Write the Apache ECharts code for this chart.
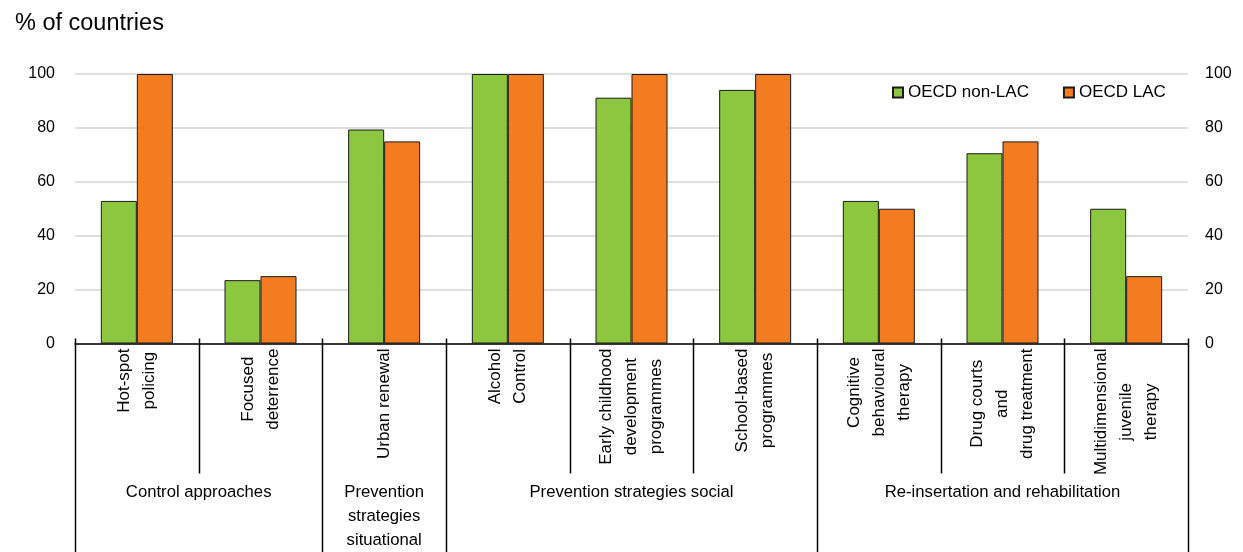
<!DOCTYPE html>
<html>
<head>
<meta charset="utf-8">
<title>Crime prevention approaches</title>
<script src="https://cdn.jsdelivr.net/npm/echarts@6/dist/echarts.min.js"></script>
<style>
  html, body { margin: 0; padding: 0; background: #fff; }
  #chart { width: 1243px; height: 552px; }
</style>
</head>
<body>
<div id="chart"></div>
<script>
// Programme categories (two-level axis: programme, then its group)
const categories = [
  'Hot-spot\npolicing',
  'Focused\ndeterrence',
  'Urban renewal',
  'Alcohol\nControl',
  'Early childhood\ndevelopment\nprogrammes',
  'School-based\nprogrammes',
  'Cognitive\nbehavioural\ntherapy',
  'Drug courts\nand\ndrug treatment',
  'Multidimensional\njuvenile\ntherapy'
];
const groupNames = [
  'Control approaches',
  'Prevention\nstrategies\nsituational',
  'Prevention strategies social',
  'Re-insertation and rehabilitation'
];
const groupSizes = [2, 1, 3, 3];

// Share of countries using each approach (%)
const oecdNonLac = [52.9, 23.5, 79.4, 100, 91.2, 94.1, 52.9, 70.6, 50];
const oecdLac = [100, 25, 75, 100, 100, 100, 50, 75, 25];

const yTicks = [0, 20, 40, 60, 80, 100];

const FONT = '"Liberation Sans", Arial, Helvetica, sans-serif';
const FS = 17;

const chart = echarts.init(document.getElementById('chart'), null, { renderer: 'canvas' });

const option = {
  animation: false,
  backgroundColor: '#fff',
  textStyle: { fontFamily: FONT, color: '#000' },
  title: {
    text: '% of countries',
    left: 10,
    top: 7,
    textStyle: { fontFamily: FONT, fontSize: 23.5, fontWeight: 'normal', color: '#000' }
  },
  legend: {
    left: 892,
    top: 84,
    padding: 0,
    itemWidth: 10,
    itemHeight: 10,
    itemGap: 34,
    icon: 'rect',
    textStyle: { fontFamily: FONT, fontSize: FS, color: '#000' },
    data: ['OECD non-LAC', 'OECD LAC']
  },
  grid: { left: 75, right: 55, top: 74, bottom: 208.5, containLabel: false },
  xAxis: {
    type: 'category',
    data: categories,
    axisLine: { show: true, lineStyle: { color: '#000', width: 1.5 } },
    axisTick: { show: false },
    axisLabel: { show: false },
    splitLine: { show: false }
  },
  yAxis: [
    {
      type: 'value',
      position: 'left',
      min: yTicks[0],
      max: yTicks[yTicks.length - 1],
      interval: 20,
      axisLine: { show: false },
      axisTick: { show: false },
      axisLabel: { fontFamily: FONT, fontSize: 16, color: '#000', margin: 20 },
      splitLine: { show: true, lineStyle: { color: '#d4d4d4', width: 1.5 } }
    },
    {
      type: 'value',
      position: 'right',
      min: yTicks[0],
      max: yTicks[yTicks.length - 1],
      interval: 20,
      axisLine: { show: false },
      axisTick: { show: false },
      axisLabel: { fontFamily: FONT, fontSize: 16, color: '#000', margin: 17 },
      splitLine: { show: false }
    }
  ],
  series: [
    {
      name: 'OECD non-LAC',
      type: 'bar',
      data: oecdNonLac,
      barWidth: 36,
      barGap: '0%',
      itemStyle: { color: '#8dc63f', borderColor: '#1a1a1a', borderWidth: 1 }
    },
    {
      name: 'OECD LAC',
      type: 'bar',
      data: oecdLac,
      barWidth: 36,
      barGap: '0%',
      itemStyle: { color: '#f47c20', borderColor: '#1a1a1a', borderWidth: 1 }
    }
  ]
};

chart.setOption(option);

// Two-level category axis: separator lines, rotated programme names, group names
function measure(text, size) {
  const ctx = document.createElement('canvas').getContext('2d');
  ctx.font = size + 'px ' + FONT;
  return Math.max.apply(null, text.split('\n').map(function (l) { return ctx.measureText(l).width; }));
}

function drawAxisDecor() {
  const c0 = chart.convertToPixel({ xAxisIndex: 0 }, 0);
  const c1 = chart.convertToPixel({ xAxisIndex: 0 }, 1);
  const band = c1 - c0;
  const yBase = chart.convertToPixel({ yAxisIndex: 0 }, 0);
  const left = c0 - band / 2;
  const H = chart.getHeight();

  const groupEdges = [0];
  groupSizes.forEach(function (s) { groupEdges.push(groupEdges[groupEdges.length - 1] + s); });

  const elements = [];

  for (let b = 0; b <= categories.length; b++) {
    const x = Math.round(left + b * band) + 0.5;
    const isGroupEdge = groupEdges.indexOf(b) >= 0;
    elements.push({
      type: 'line',
      shape: { x1: x, y1: yBase - 5, x2: x, y2: isGroupEdge ? H : yBase + 130 },
      style: { stroke: '#000', lineWidth: 1.5 },
      silent: true
    });
  }

  categories.forEach(function (name, i) {
    const cx = chart.convertToPixel({ xAxisIndex: 0 }, i);
    const w = measure(name, FS);
    elements.push({
      type: 'text',
      x: cx,
      y: yBase + 5 + w / 2,
      rotation: Math.PI / 2,
      style: {
        text: name,
        fontFamily: FONT,
        fontSize: FS,
        lineHeight: 25,
        fill: '#000',
        align: 'center',
        verticalAlign: 'middle'
      },
      silent: true
    });
  });

  groupNames.forEach(function (name, g) {
    const mid = left + (groupEdges[g] + groupEdges[g + 1]) / 2 * band;
    elements.push({
      type: 'text',
      x: mid,
      y: 480,
      style: {
        text: name,
        fontFamily: FONT,
        fontSize: 16.7,
        lineHeight: 24,
        fill: '#000',
        align: 'center',
        verticalAlign: 'top'
      },
      silent: true
    });
  });

  chart.setOption({ graphic: { elements: elements } });
}

drawAxisDecor();
</script>
</body>
</html>
